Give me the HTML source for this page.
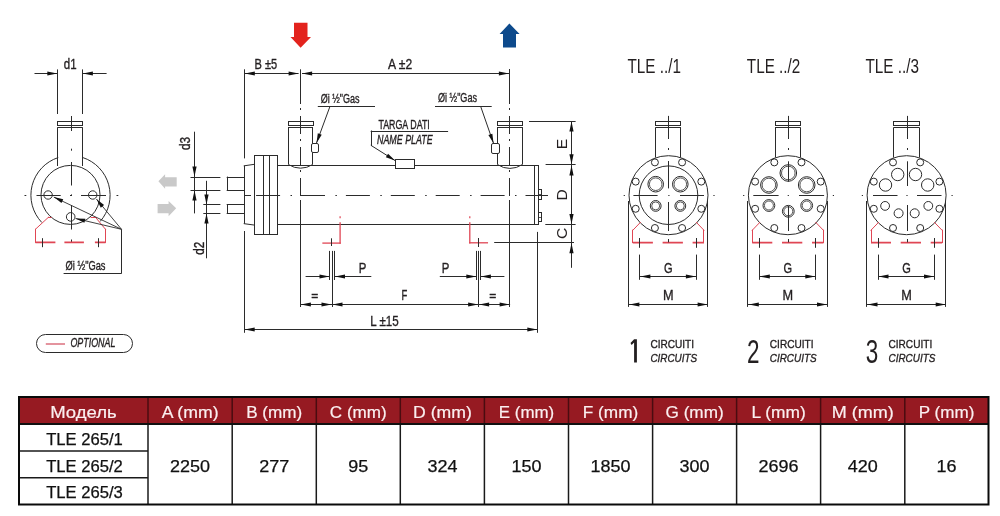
<!DOCTYPE html>
<html><head><meta charset="utf-8"><style>
html,body{margin:0;padding:0;background:#fff;width:1000px;height:516px;overflow:hidden}
svg{position:absolute;left:0;top:0;display:block;will-change:transform}
</style></head><body>
<svg width="1000" height="516" viewBox="0 0 1000 516">
<rect x="19.0" y="397.0" width="969.5" height="27.0" fill="#961a22"/>
<line x1="148.00" y1="397.00" x2="148.00" y2="424.00" stroke="#4a0c10" stroke-width="1.5" />
<line x1="232.20" y1="397.00" x2="232.20" y2="424.00" stroke="#4a0c10" stroke-width="1.5" />
<line x1="316.30" y1="397.00" x2="316.30" y2="424.00" stroke="#4a0c10" stroke-width="1.5" />
<line x1="400.30" y1="397.00" x2="400.30" y2="424.00" stroke="#4a0c10" stroke-width="1.5" />
<line x1="484.40" y1="397.00" x2="484.40" y2="424.00" stroke="#4a0c10" stroke-width="1.5" />
<line x1="568.50" y1="397.00" x2="568.50" y2="424.00" stroke="#4a0c10" stroke-width="1.5" />
<line x1="652.60" y1="397.00" x2="652.60" y2="424.00" stroke="#4a0c10" stroke-width="1.5" />
<line x1="736.60" y1="397.00" x2="736.60" y2="424.00" stroke="#4a0c10" stroke-width="1.5" />
<line x1="820.60" y1="397.00" x2="820.60" y2="424.00" stroke="#4a0c10" stroke-width="1.5" />
<line x1="904.80" y1="397.00" x2="904.80" y2="424.00" stroke="#4a0c10" stroke-width="1.5" />
<line x1="148.00" y1="424.00" x2="148.00" y2="504.50" stroke="#1a1a1a" stroke-width="1.5" />
<line x1="232.20" y1="424.00" x2="232.20" y2="504.50" stroke="#1a1a1a" stroke-width="1.5" />
<line x1="316.30" y1="424.00" x2="316.30" y2="504.50" stroke="#1a1a1a" stroke-width="1.5" />
<line x1="400.30" y1="424.00" x2="400.30" y2="504.50" stroke="#1a1a1a" stroke-width="1.5" />
<line x1="484.40" y1="424.00" x2="484.40" y2="504.50" stroke="#1a1a1a" stroke-width="1.5" />
<line x1="568.50" y1="424.00" x2="568.50" y2="504.50" stroke="#1a1a1a" stroke-width="1.5" />
<line x1="652.60" y1="424.00" x2="652.60" y2="504.50" stroke="#1a1a1a" stroke-width="1.5" />
<line x1="736.60" y1="424.00" x2="736.60" y2="504.50" stroke="#1a1a1a" stroke-width="1.5" />
<line x1="820.60" y1="424.00" x2="820.60" y2="504.50" stroke="#1a1a1a" stroke-width="1.5" />
<line x1="904.80" y1="424.00" x2="904.80" y2="504.50" stroke="#1a1a1a" stroke-width="1.5" />
<line x1="19.00" y1="451.00" x2="148.00" y2="451.00" stroke="#1a1a1a" stroke-width="1.5" />
<line x1="19.00" y1="477.80" x2="148.00" y2="477.80" stroke="#1a1a1a" stroke-width="1.5" />
<line x1="19.00" y1="424.00" x2="988.50" y2="424.00" stroke="#111" stroke-width="2" />
<rect x="19.0" y="397.0" width="969.5" height="107.5" fill="none" stroke="#0a0a0a" stroke-width="2"/>
<text x="83.5" y="418.0" font-family="Liberation Sans" font-size="16.5" text-anchor="middle" fill="#fbeff0" font-weight="normal" textLength="66.6" lengthAdjust="spacingAndGlyphs" stroke="#fbeff0" stroke-width="0.2">Модель</text>
<text x="190.1" y="418.0" font-family="Liberation Sans" font-size="16.5" text-anchor="middle" fill="#fbeff0" font-weight="normal" textLength="56.9" lengthAdjust="spacingAndGlyphs" stroke="#fbeff0" stroke-width="0.2">A (mm)</text>
<text x="274.2" y="418.0" font-family="Liberation Sans" font-size="16.5" text-anchor="middle" fill="#fbeff0" font-weight="normal" textLength="56.1" lengthAdjust="spacingAndGlyphs" stroke="#fbeff0" stroke-width="0.2">B (mm)</text>
<text x="358.3" y="418.0" font-family="Liberation Sans" font-size="16.5" text-anchor="middle" fill="#fbeff0" font-weight="normal" textLength="56.9" lengthAdjust="spacingAndGlyphs" stroke="#fbeff0" stroke-width="0.2">C (mm)</text>
<text x="442.4" y="418.0" font-family="Liberation Sans" font-size="16.5" text-anchor="middle" fill="#fbeff0" font-weight="normal" textLength="58.8" lengthAdjust="spacingAndGlyphs" stroke="#fbeff0" stroke-width="0.2">D (mm)</text>
<text x="526.5" y="418.0" font-family="Liberation Sans" font-size="16.5" text-anchor="middle" fill="#fbeff0" font-weight="normal" textLength="55.4" lengthAdjust="spacingAndGlyphs" stroke="#fbeff0" stroke-width="0.2">E (mm)</text>
<text x="610.5" y="418.0" font-family="Liberation Sans" font-size="16.5" text-anchor="middle" fill="#fbeff0" font-weight="normal" textLength="55.4" lengthAdjust="spacingAndGlyphs" stroke="#fbeff0" stroke-width="0.2">F (mm)</text>
<text x="694.6" y="418.0" font-family="Liberation Sans" font-size="16.5" text-anchor="middle" fill="#fbeff0" font-weight="normal" textLength="58.1" lengthAdjust="spacingAndGlyphs" stroke="#fbeff0" stroke-width="0.2">G (mm)</text>
<text x="778.6" y="418.0" font-family="Liberation Sans" font-size="16.5" text-anchor="middle" fill="#fbeff0" font-weight="normal" textLength="54.3" lengthAdjust="spacingAndGlyphs" stroke="#fbeff0" stroke-width="0.2">L (mm)</text>
<text x="862.7" y="418.0" font-family="Liberation Sans" font-size="16.5" text-anchor="middle" fill="#fbeff0" font-weight="normal" textLength="62.0" lengthAdjust="spacingAndGlyphs" stroke="#fbeff0" stroke-width="0.2">M (mm)</text>
<text x="946.6" y="418.0" font-family="Liberation Sans" font-size="16.5" text-anchor="middle" fill="#fbeff0" font-weight="normal" textLength="55.5" lengthAdjust="spacingAndGlyphs" stroke="#fbeff0" stroke-width="0.2">P (mm)</text>
<text x="84.5" y="445.3" font-family="Liberation Sans" font-size="16.5" text-anchor="middle" fill="#111" font-weight="normal" textLength="76.7" lengthAdjust="spacingAndGlyphs" stroke="#111" stroke-width="0.25">TLE 265/1</text>
<text x="84.5" y="471.8" font-family="Liberation Sans" font-size="16.5" text-anchor="middle" fill="#111" font-weight="normal" textLength="76.7" lengthAdjust="spacingAndGlyphs" stroke="#111" stroke-width="0.25">TLE 265/2</text>
<text x="84.5" y="497.8" font-family="Liberation Sans" font-size="16.5" text-anchor="middle" fill="#111" font-weight="normal" textLength="76.7" lengthAdjust="spacingAndGlyphs" stroke="#111" stroke-width="0.25">TLE 265/3</text>
<text x="190.1" y="471.8" font-family="Liberation Sans" font-size="16.5" text-anchor="middle" fill="#111" font-weight="normal" textLength="40" lengthAdjust="spacingAndGlyphs" stroke="#111" stroke-width="0.25">2250</text>
<text x="274.2" y="471.8" font-family="Liberation Sans" font-size="16.5" text-anchor="middle" fill="#111" font-weight="normal" textLength="30" lengthAdjust="spacingAndGlyphs" stroke="#111" stroke-width="0.25">277</text>
<text x="358.3" y="471.8" font-family="Liberation Sans" font-size="16.5" text-anchor="middle" fill="#111" font-weight="normal" textLength="20" lengthAdjust="spacingAndGlyphs" stroke="#111" stroke-width="0.25">95</text>
<text x="442.4" y="471.8" font-family="Liberation Sans" font-size="16.5" text-anchor="middle" fill="#111" font-weight="normal" textLength="30" lengthAdjust="spacingAndGlyphs" stroke="#111" stroke-width="0.25">324</text>
<text x="526.5" y="471.8" font-family="Liberation Sans" font-size="16.5" text-anchor="middle" fill="#111" font-weight="normal" textLength="30" lengthAdjust="spacingAndGlyphs" stroke="#111" stroke-width="0.25">150</text>
<text x="610.5" y="471.8" font-family="Liberation Sans" font-size="16.5" text-anchor="middle" fill="#111" font-weight="normal" textLength="40" lengthAdjust="spacingAndGlyphs" stroke="#111" stroke-width="0.25">1850</text>
<text x="694.6" y="471.8" font-family="Liberation Sans" font-size="16.5" text-anchor="middle" fill="#111" font-weight="normal" textLength="30" lengthAdjust="spacingAndGlyphs" stroke="#111" stroke-width="0.25">300</text>
<text x="778.6" y="471.8" font-family="Liberation Sans" font-size="16.5" text-anchor="middle" fill="#111" font-weight="normal" textLength="40" lengthAdjust="spacingAndGlyphs" stroke="#111" stroke-width="0.25">2696</text>
<text x="862.7" y="471.8" font-family="Liberation Sans" font-size="16.5" text-anchor="middle" fill="#111" font-weight="normal" textLength="30" lengthAdjust="spacingAndGlyphs" stroke="#111" stroke-width="0.25">420</text>
<text x="946.6" y="471.8" font-family="Liberation Sans" font-size="16.5" text-anchor="middle" fill="#111" font-weight="normal" textLength="20" lengthAdjust="spacingAndGlyphs" stroke="#111" stroke-width="0.25">16</text>
<line x1="34.50" y1="73.50" x2="57.80" y2="73.50" stroke="#2b2b2b" stroke-width="1.0" />
<polygon points="57.30,73.50 47.30,75.60 47.30,71.40" fill="#111"/>
<line x1="82.40" y1="73.50" x2="106.60" y2="73.50" stroke="#2b2b2b" stroke-width="1.0" />
<polygon points="82.90,73.50 92.90,71.40 92.90,75.60" fill="#111"/>
<line x1="57.50" y1="69.40" x2="57.50" y2="114.00" stroke="#2b2b2b" stroke-width="1.0" />
<line x1="82.50" y1="69.40" x2="82.50" y2="114.00" stroke="#2b2b2b" stroke-width="1.0" />
<text x="70.2" y="68.9" font-family="Liberation Sans" font-size="14.5" text-anchor="middle" fill="#231f20" font-weight="normal" textLength="12.8" lengthAdjust="spacingAndGlyphs" stroke="#231f20" stroke-width="0.35">d1</text>
<rect x="57.50" y="121.50" width="25.00" height="4.00" rx="0" fill="none" stroke="#2b2b2b" stroke-width="1.0"/>
<line x1="57.80" y1="127.50" x2="82.40" y2="127.50" stroke="#2b2b2b" stroke-width="1.0" />
<line x1="57.50" y1="127.20" x2="57.50" y2="166.00" stroke="#2b2b2b" stroke-width="1.0" />
<line x1="82.50" y1="127.20" x2="82.50" y2="166.00" stroke="#2b2b2b" stroke-width="1.0" />
<line x1="71.50" y1="116.00" x2="71.50" y2="131.00" stroke="#2b2b2b" stroke-width="1.0" />
<line x1="71.50" y1="148.70" x2="71.50" y2="150.70" stroke="#2b2b2b" stroke-width="1.0" />
<line x1="71.50" y1="162.00" x2="71.50" y2="185.50" stroke="#2b2b2b" stroke-width="1.0" />
<line x1="71.50" y1="194.40" x2="71.50" y2="196.00" stroke="#2b2b2b" stroke-width="1.0" />
<line x1="71.50" y1="205.00" x2="71.50" y2="229.50" stroke="#2b2b2b" stroke-width="1.0" />
<line x1="71.50" y1="239.50" x2="71.50" y2="242.00" stroke="#2b2b2b" stroke-width="1.0" />
<path d="M41.78,222.46 A39.60,39.60 0 0 1 58.26,157.54" fill="none" stroke="#2b2b2b" stroke-width="1.0"/>
<path d="M82.74,157.54 A39.60,39.60 0 0 1 100.16,221.44" fill="none" stroke="#2b2b2b" stroke-width="1.0"/>
<circle cx="70.50" cy="194.90" r="29.50" fill="none" stroke="#2b2b2b" stroke-width="1.0"/>
<circle cx="48.10" cy="195.00" r="4.20" fill="none" stroke="#2b2b2b" stroke-width="1.0"/>
<circle cx="92.70" cy="195.00" r="4.20" fill="none" stroke="#2b2b2b" stroke-width="1.0"/>
<circle cx="70.70" cy="216.90" r="4.30" fill="none" stroke="#2b2b2b" stroke-width="1.0"/>
<line x1="24.50" y1="195.50" x2="26.30" y2="195.50" stroke="#2b2b2b" stroke-width="1.0" />
<line x1="36.50" y1="195.50" x2="60.70" y2="195.50" stroke="#2b2b2b" stroke-width="1.0" />
<line x1="70.00" y1="195.50" x2="71.80" y2="195.50" stroke="#2b2b2b" stroke-width="1.0" />
<line x1="81.00" y1="195.50" x2="106.00" y2="195.50" stroke="#2b2b2b" stroke-width="1.0" />
<line x1="116.50" y1="195.50" x2="118.30" y2="195.50" stroke="#2b2b2b" stroke-width="1.0" />
<line x1="35.50" y1="242.40" x2="35.50" y2="229.30" stroke="#e04654" stroke-width="1.0" stroke-linecap="square"/>
<line x1="35.40" y1="229.30" x2="48.50" y2="217.20" stroke="#e04654" stroke-width="1.0" stroke-linecap="square"/>
<line x1="48.50" y1="217.50" x2="51.00" y2="217.50" stroke="#e04654" stroke-width="1.0" stroke-linecap="square"/>
<line x1="91.10" y1="217.50" x2="95.40" y2="217.50" stroke="#e04654" stroke-width="1.0" stroke-linecap="square"/>
<line x1="95.40" y1="217.20" x2="105.50" y2="229.30" stroke="#e04654" stroke-width="1.0" stroke-linecap="square"/>
<line x1="105.50" y1="229.30" x2="105.50" y2="242.40" stroke="#e04654" stroke-width="1.0" stroke-linecap="square"/>
<line x1="35.40" y1="242.40" x2="105.50" y2="242.40" stroke="#e04654" stroke-width="1.7" stroke-dasharray="20 9 19.5 11 11" stroke-dashoffset="0"/>
<line x1="42.50" y1="238.20" x2="42.50" y2="247.20" stroke="#2b2b2b" stroke-width="1.0" />
<line x1="98.50" y1="238.20" x2="98.50" y2="247.20" stroke="#2b2b2b" stroke-width="1.0" />
<line x1="121.50" y1="229.30" x2="53.80" y2="197.10" stroke="#2b2b2b" stroke-width="0.9" />
<polygon points="53.80,197.10 63.28,199.28 61.48,203.08" fill="#111"/>
<line x1="121.50" y1="229.30" x2="96.40" y2="199.00" stroke="#2b2b2b" stroke-width="0.9" />
<polygon points="96.40,199.00 104.08,204.98 100.84,207.66" fill="#111"/>
<line x1="121.50" y1="229.30" x2="75.60" y2="218.50" stroke="#2b2b2b" stroke-width="0.9" />
<polygon points="75.60,218.50 85.33,218.63 84.37,222.72" fill="#111"/>
<line x1="121.50" y1="229.30" x2="121.50" y2="273.60" stroke="#2b2b2b" stroke-width="1.0" />
<line x1="63.60" y1="273.50" x2="121.50" y2="273.50" stroke="#2b2b2b" stroke-width="1.0" />
<text x="65.5" y="270.2" font-family="Liberation Sans" font-size="12.3" text-anchor="start" fill="#231f20" font-weight="normal" textLength="40" lengthAdjust="spacingAndGlyphs" stroke="#231f20" stroke-width="0.35">Øi ½"Gas</text>
<rect x="36.50" y="334.50" width="96.00" height="18.00" rx="9" fill="none" stroke="#2b2b2b" stroke-width="1.0"/>
<line x1="45.80" y1="344.00" x2="65.00" y2="344.00" stroke="#d65a6a" stroke-width="1.3" />
<text x="70.4" y="347.4" font-family="Liberation Sans" font-size="12" text-anchor="start" fill="#231f20" font-weight="normal" font-style="italic" textLength="45" lengthAdjust="spacingAndGlyphs" stroke="#231f20" stroke-width="0.35">OPTIONAL</text>
<polygon points="294.00,22.70 307.50,22.70 307.50,37.00 311.00,37.00 300.60,47.80 290.50,37.00 294.00,37.00" fill="#e3231d" stroke="none" stroke-width="1.0"/>
<polygon points="509.40,23.40 519.60,34.00 516.00,34.00 516.00,47.40 503.00,47.40 503.00,34.00 499.60,34.00" fill="#0d4a8c" stroke="none" stroke-width="1.0"/>
<line x1="244.30" y1="73.50" x2="298.60" y2="73.50" stroke="#2b2b2b" stroke-width="1.0" />
<polygon points="244.80,73.50 254.80,71.40 254.80,75.60" fill="#111"/>
<polygon points="298.60,73.50 288.60,75.60 288.60,71.40" fill="#111"/>
<line x1="302.00" y1="73.50" x2="509.40" y2="73.50" stroke="#2b2b2b" stroke-width="1.0" />
<polygon points="302.10,73.50 312.10,71.40 312.10,75.60" fill="#111"/>
<polygon points="508.90,73.50 498.90,75.60 498.90,71.40" fill="#111"/>
<text x="254.6" y="69.3" font-family="Liberation Sans" font-size="14.5" text-anchor="start" fill="#231f20" font-weight="normal" textLength="22.6" lengthAdjust="spacingAndGlyphs" stroke="#231f20" stroke-width="0.35">B ±5</text>
<text x="388" y="69.4" font-family="Liberation Sans" font-size="14.5" text-anchor="start" fill="#231f20" font-weight="normal" textLength="24.2" lengthAdjust="spacingAndGlyphs" stroke="#231f20" stroke-width="0.35">A ±2</text>
<line x1="244.50" y1="69.30" x2="244.50" y2="158.40" stroke="#2b2b2b" stroke-width="1.0" />
<line x1="244.50" y1="231.00" x2="244.50" y2="332.80" stroke="#2b2b2b" stroke-width="1.0" />
<line x1="300.50" y1="69.30" x2="300.50" y2="104.00" stroke="#2b2b2b" stroke-width="1.0" />
<line x1="300.50" y1="108.00" x2="300.50" y2="200.00" stroke="#2b2b2b" stroke-width="1.0" stroke-dasharray="2 6 18 5" stroke-dashoffset="0"/>
<line x1="300.50" y1="200.00" x2="300.50" y2="307.00" stroke="#2b2b2b" stroke-width="1.0" />
<line x1="509.50" y1="69.00" x2="509.50" y2="104.00" stroke="#2b2b2b" stroke-width="1.0" />
<line x1="509.50" y1="108.00" x2="509.50" y2="200.00" stroke="#2b2b2b" stroke-width="1.0" stroke-dasharray="2 6 18 5" stroke-dashoffset="0"/>
<line x1="509.50" y1="200.00" x2="509.50" y2="307.00" stroke="#2b2b2b" stroke-width="1.0" />
<line x1="244.20" y1="165.80" x2="254.50" y2="164.30" stroke="#2b2b2b" stroke-width="1.0" stroke-linecap="square"/>
<line x1="244.20" y1="223.70" x2="254.50" y2="225.10" stroke="#2b2b2b" stroke-width="1.0" stroke-linecap="square"/>
<line x1="244.50" y1="165.80" x2="244.50" y2="223.70" stroke="#2b2b2b" stroke-width="1.0" />
<rect x="254.50" y="155.50" width="23.00" height="79.00" rx="0" fill="none" stroke="#2b2b2b" stroke-width="1.0"/>
<line x1="263.50" y1="155.20" x2="263.50" y2="234.20" stroke="#2b2b2b" stroke-width="1.0" />
<line x1="269.50" y1="155.20" x2="269.50" y2="234.20" stroke="#2b2b2b" stroke-width="1.0" />
<line x1="244.20" y1="177.50" x2="227.20" y2="177.50" stroke="#2b2b2b" stroke-width="1.0" stroke-linecap="square"/>
<line x1="227.50" y1="177.10" x2="227.50" y2="190.00" stroke="#2b2b2b" stroke-width="1.0" stroke-linecap="square"/>
<line x1="227.20" y1="190.50" x2="244.20" y2="190.50" stroke="#2b2b2b" stroke-width="1.0" stroke-linecap="square"/>
<line x1="244.20" y1="204.50" x2="227.20" y2="204.50" stroke="#2b2b2b" stroke-width="1.0" stroke-linecap="square"/>
<line x1="227.50" y1="204.90" x2="227.50" y2="213.40" stroke="#2b2b2b" stroke-width="1.0" stroke-linecap="square"/>
<line x1="227.20" y1="213.50" x2="244.20" y2="213.50" stroke="#2b2b2b" stroke-width="1.0" stroke-linecap="square"/>
<line x1="277.50" y1="165.50" x2="534.00" y2="165.50" stroke="#2b2b2b" stroke-width="1.0" />
<line x1="277.50" y1="224.50" x2="534.00" y2="224.50" stroke="#2b2b2b" stroke-width="1.0" />
<rect x="534.50" y="165.50" width="4.00" height="59.00" rx="0" fill="none" stroke="#2b2b2b" stroke-width="1.0"/>
<rect x="538.50" y="189.50" width="3.00" height="10.00" rx="0" fill="none" stroke="#2b2b2b" stroke-width="1.0"/>
<rect x="538.50" y="212.50" width="3.00" height="9.00" rx="0" fill="none" stroke="#2b2b2b" stroke-width="1.0"/>
<line x1="538.30" y1="194.50" x2="541.80" y2="194.50" stroke="#2b2b2b" stroke-width="0.8" />
<line x1="538.30" y1="217.50" x2="541.80" y2="217.50" stroke="#2b2b2b" stroke-width="0.8" />
<line x1="244.50" y1="195.50" x2="251.00" y2="195.50" stroke="#2b2b2b" stroke-width="1.0" />
<line x1="256.10" y1="195.50" x2="548.00" y2="195.50" stroke="#2b2b2b" stroke-width="1.0" stroke-dasharray="24 10.4 1.5 9" stroke-dashoffset="0"/>
<rect x="288.50" y="121.50" width="25.00" height="4.00" rx="0" fill="none" stroke="#2b2b2b" stroke-width="1.0"/>
<line x1="288.10" y1="127.50" x2="313.00" y2="127.50" stroke="#2b2b2b" stroke-width="1.0" />
<line x1="288.50" y1="127.20" x2="288.50" y2="164.60" stroke="#2b2b2b" stroke-width="1.0" />
<line x1="312.50" y1="127.20" x2="312.50" y2="164.60" stroke="#2b2b2b" stroke-width="1.0" />
<path d="M288.6,164.6 A21.7,21.7 0 0 0 312.5,164.6" fill="none" stroke="#2b2b2b" stroke-width="1"/>
<rect x="497.50" y="121.50" width="25.00" height="4.00" rx="0" fill="none" stroke="#2b2b2b" stroke-width="1.0"/>
<line x1="497.10" y1="127.50" x2="522.70" y2="127.50" stroke="#2b2b2b" stroke-width="1.0" />
<line x1="497.50" y1="127.20" x2="497.50" y2="164.60" stroke="#2b2b2b" stroke-width="1.0" />
<line x1="522.50" y1="127.20" x2="522.50" y2="164.60" stroke="#2b2b2b" stroke-width="1.0" />
<path d="M497.6,164.6 A21.7,21.7 0 0 0 522.2,164.6" fill="none" stroke="#2b2b2b" stroke-width="1"/>
<rect x="311.50" y="143.50" width="7.00" height="9.00" rx="1.5" fill="#fff" stroke="#2b2b2b" stroke-width="1.0"/>
<rect x="491.50" y="143.50" width="8.00" height="10.00" rx="1.5" fill="#fff" stroke="#2b2b2b" stroke-width="1.0"/>
<line x1="330.00" y1="106.30" x2="316.50" y2="143.00" stroke="#2b2b2b" stroke-width="1.0" />
<polygon points="316.50,143.00 317.81,133.36 321.75,134.81" fill="#111"/>
<line x1="317.80" y1="106.50" x2="375.00" y2="106.50" stroke="#2b2b2b" stroke-width="1.0" />
<text x="320.7" y="102.8" font-family="Liberation Sans" font-size="12.3" text-anchor="start" fill="#231f20" font-weight="normal" textLength="38.8" lengthAdjust="spacingAndGlyphs" stroke="#231f20" stroke-width="0.35">Øi ½"Gas</text>
<line x1="480.70" y1="106.50" x2="493.50" y2="143.30" stroke="#2b2b2b" stroke-width="1.0" />
<polygon points="493.50,143.30 488.40,135.02 492.36,133.64" fill="#111"/>
<line x1="435.00" y1="106.50" x2="491.70" y2="106.50" stroke="#2b2b2b" stroke-width="1.0" />
<text x="438" y="102.4" font-family="Liberation Sans" font-size="12.3" text-anchor="start" fill="#231f20" font-weight="normal" textLength="39" lengthAdjust="spacingAndGlyphs" stroke="#231f20" stroke-width="0.35">Øi ½"Gas</text>
<rect x="395.50" y="159.50" width="19.00" height="9.00" rx="0" fill="#fff" stroke="#2b2b2b" stroke-width="1.0"/>
<line x1="447.60" y1="131.50" x2="371.20" y2="131.50" stroke="#2b2b2b" stroke-width="1.0" stroke-linecap="square"/>
<line x1="371.50" y1="131.00" x2="371.50" y2="145.50" stroke="#2b2b2b" stroke-width="1.0" stroke-linecap="square"/>
<line x1="371.20" y1="145.50" x2="395.00" y2="160.50" stroke="#2b2b2b" stroke-width="1.0" stroke-linecap="square"/>
<polygon points="395.00,160.50 385.84,157.21 388.08,153.66" fill="#111"/>
<text x="378.4" y="128.7" font-family="Liberation Sans" font-size="12.5" text-anchor="start" fill="#231f20" font-weight="normal" textLength="51.4" lengthAdjust="spacingAndGlyphs" stroke="#231f20" stroke-width="0.35">TARGA DATI</text>
<text x="377" y="143.6" font-family="Liberation Sans" font-size="12.5" text-anchor="start" fill="#231f20" font-weight="normal" font-style="italic" textLength="55.7" lengthAdjust="spacingAndGlyphs" stroke="#231f20" stroke-width="0.35">NAME PLATE</text>
<line x1="529.00" y1="121.50" x2="575.60" y2="121.50" stroke="#2b2b2b" stroke-width="1.0" />
<line x1="545.60" y1="164.50" x2="575.60" y2="164.50" stroke="#2b2b2b" stroke-width="1.0" />
<line x1="545.30" y1="224.50" x2="575.60" y2="224.50" stroke="#2b2b2b" stroke-width="1.0" />
<line x1="494.20" y1="242.50" x2="574.00" y2="242.50" stroke="#2b2b2b" stroke-width="1.0" />
<line x1="571.50" y1="121.00" x2="571.50" y2="267.80" stroke="#2b2b2b" stroke-width="1.0" />
<polygon points="571.50,121.50 573.60,131.50 569.40,131.50" fill="#111"/>
<polygon points="571.50,164.30 569.40,154.30 573.60,154.30" fill="#111"/>
<polygon points="571.50,165.60 573.60,175.60 569.40,175.60" fill="#111"/>
<polygon points="571.50,223.90 569.40,213.90 573.60,213.90" fill="#111"/>
<polygon points="571.50,243.30 573.60,253.30 569.40,253.30" fill="#111"/>
<text x="566.5" y="144" font-family="Liberation Sans" font-size="15.5" text-anchor="middle" fill="#231f20" font-weight="normal" transform="rotate(-90 566.5 144)" stroke="#231f20" stroke-width="0.05">E</text>
<text x="567" y="194.8" font-family="Liberation Sans" font-size="15.5" text-anchor="middle" fill="#231f20" font-weight="normal" transform="rotate(-90 567 194.8)" stroke="#231f20" stroke-width="0.05">D</text>
<text x="567" y="233.5" font-family="Liberation Sans" font-size="15.5" text-anchor="middle" fill="#231f20" font-weight="normal" transform="rotate(-90 567 233.5)" stroke="#231f20" stroke-width="0.05">C</text>
<line x1="537.50" y1="231.90" x2="537.50" y2="332.80" stroke="#2b2b2b" stroke-width="1.0" />
<line x1="340.10" y1="222.80" x2="340.10" y2="243.10" stroke="#e04654" stroke-width="1.3" stroke-linecap="square"/>
<line x1="340.10" y1="243.10" x2="323.00" y2="243.10" stroke="#e04654" stroke-width="1.3" stroke-linecap="square"/>
<line x1="340.10" y1="216.30" x2="340.10" y2="218.30" stroke="#e04654" stroke-width="1.2" />
<line x1="331.50" y1="238.30" x2="331.50" y2="246.00" stroke="#2b2b2b" stroke-width="1.0" />
<line x1="469.80" y1="223.00" x2="469.80" y2="242.80" stroke="#e04654" stroke-width="1.3" stroke-linecap="square"/>
<line x1="469.80" y1="242.80" x2="487.40" y2="242.80" stroke="#e04654" stroke-width="1.3" stroke-linecap="square"/>
<line x1="469.80" y1="216.30" x2="469.80" y2="218.30" stroke="#e04654" stroke-width="1.2" />
<line x1="478.50" y1="238.00" x2="478.50" y2="247.00" stroke="#2b2b2b" stroke-width="1.0" />
<line x1="329.50" y1="250.90" x2="329.50" y2="280.00" stroke="#2b2b2b" stroke-width="1.0" />
<line x1="334.50" y1="250.90" x2="334.50" y2="280.00" stroke="#2b2b2b" stroke-width="1.0" />
<line x1="332.50" y1="250.90" x2="332.50" y2="307.00" stroke="#2b2b2b" stroke-width="1.0" />
<line x1="476.50" y1="250.90" x2="476.50" y2="280.00" stroke="#2b2b2b" stroke-width="1.0" />
<line x1="480.50" y1="250.90" x2="480.50" y2="280.00" stroke="#2b2b2b" stroke-width="1.0" />
<line x1="478.50" y1="250.90" x2="478.50" y2="307.00" stroke="#2b2b2b" stroke-width="1.0" />
<line x1="305.60" y1="276.50" x2="329.80" y2="276.50" stroke="#2b2b2b" stroke-width="1.0" />
<polygon points="329.50,276.50 319.50,278.60 319.50,274.40" fill="#111"/>
<line x1="334.70" y1="276.50" x2="371.30" y2="276.50" stroke="#2b2b2b" stroke-width="1.0" />
<polygon points="335.00,276.50 345.00,274.40 345.00,278.60" fill="#111"/>
<line x1="439.80" y1="276.50" x2="476.60" y2="276.50" stroke="#2b2b2b" stroke-width="1.0" />
<polygon points="476.30,276.50 466.30,278.60 466.30,274.40" fill="#111"/>
<line x1="480.60" y1="276.50" x2="504.40" y2="276.50" stroke="#2b2b2b" stroke-width="1.0" />
<polygon points="480.90,276.50 490.90,274.40 490.90,278.60" fill="#111"/>
<text x="358.8" y="272.6" font-family="Liberation Sans" font-size="14" text-anchor="start" fill="#231f20" font-weight="normal" textLength="7.6" lengthAdjust="spacingAndGlyphs" stroke="#231f20" stroke-width="0.35">P</text>
<text x="441.7" y="272.6" font-family="Liberation Sans" font-size="14" text-anchor="start" fill="#231f20" font-weight="normal" textLength="7.6" lengthAdjust="spacingAndGlyphs" stroke="#231f20" stroke-width="0.35">P</text>
<line x1="300.40" y1="304.50" x2="510.10" y2="304.50" stroke="#2b2b2b" stroke-width="1.0" />
<polygon points="300.90,304.50 310.90,302.40 310.90,306.60" fill="#111"/>
<polygon points="331.50,304.50 321.50,306.60 321.50,302.40" fill="#111"/>
<polygon points="332.50,304.50 342.50,302.40 342.50,306.60" fill="#111"/>
<polygon points="478.10,304.50 468.10,306.60 468.10,302.40" fill="#111"/>
<polygon points="479.10,304.50 489.10,302.40 489.10,306.60" fill="#111"/>
<polygon points="509.60,304.50 499.60,306.60 499.60,302.40" fill="#111"/>
<text x="401.4" y="300.3" font-family="Liberation Sans" font-size="14" text-anchor="start" fill="#231f20" font-weight="normal" textLength="5.8" lengthAdjust="spacingAndGlyphs" stroke="#231f20" stroke-width="0.35">F</text>
<text x="311.3" y="299.5" font-family="Liberation Sans" font-size="13" text-anchor="start" fill="#231f20" font-weight="normal" textLength="7" lengthAdjust="spacingAndGlyphs" stroke="#231f20" stroke-width="0.35">=</text>
<text x="489.2" y="299.5" font-family="Liberation Sans" font-size="13" text-anchor="start" fill="#231f20" font-weight="normal" textLength="7" lengthAdjust="spacingAndGlyphs" stroke="#231f20" stroke-width="0.35">=</text>
<line x1="244.20" y1="329.50" x2="537.80" y2="329.50" stroke="#2b2b2b" stroke-width="1.0" />
<polygon points="244.70,329.50 254.70,327.40 254.70,331.60" fill="#111"/>
<polygon points="537.30,329.50 527.30,331.60 527.30,327.40" fill="#111"/>
<text x="370.2" y="325.8" font-family="Liberation Sans" font-size="14.5" text-anchor="start" fill="#231f20" font-weight="normal" textLength="28.5" lengthAdjust="spacingAndGlyphs" stroke="#231f20" stroke-width="0.35">L ±15</text>
<line x1="190.50" y1="177.50" x2="220.40" y2="177.50" stroke="#2b2b2b" stroke-width="1.0" />
<line x1="190.50" y1="190.50" x2="220.40" y2="190.50" stroke="#2b2b2b" stroke-width="1.0" />
<line x1="194.50" y1="131.70" x2="194.50" y2="213.40" stroke="#2b2b2b" stroke-width="1.0" />
<polygon points="194.50,176.60 192.40,166.60 196.60,166.60" fill="#111"/>
<polygon points="194.50,190.40 196.60,200.40 192.40,200.40" fill="#111"/>
<text x="189.5" y="143.5" font-family="Liberation Sans" font-size="14" text-anchor="middle" fill="#231f20" font-weight="normal" textLength="13" lengthAdjust="spacingAndGlyphs" transform="rotate(-90 189.5 143.5)" stroke="#231f20" stroke-width="0.35">d3</text>
<line x1="203.30" y1="204.50" x2="220.40" y2="204.50" stroke="#2b2b2b" stroke-width="1.0" />
<line x1="203.30" y1="213.50" x2="220.40" y2="213.50" stroke="#2b2b2b" stroke-width="1.0" />
<line x1="206.50" y1="180.80" x2="206.50" y2="258.30" stroke="#2b2b2b" stroke-width="1.0" />
<polygon points="206.50,204.50 204.40,194.50 208.60,194.50" fill="#111"/>
<polygon points="206.50,213.40 208.60,223.40 204.40,223.40" fill="#111"/>
<text x="204" y="248.2" font-family="Liberation Sans" font-size="14" text-anchor="middle" fill="#231f20" font-weight="normal" textLength="13" lengthAdjust="spacingAndGlyphs" transform="rotate(-90 204 248.2)" stroke="#231f20" stroke-width="0.35">d2</text>
<polygon points="158.40,181.30 165.10,174.30 165.10,177.20 176.70,177.20 176.70,186.50 165.10,186.50 165.10,188.80" fill="#c9c9c9" stroke="none" stroke-width="1.0"/>
<polygon points="176.20,208.30 168.60,201.00 168.60,204.00 157.60,204.00 157.60,213.30 168.60,213.30 168.60,216.20" fill="#c9c9c9" stroke="none" stroke-width="1.0"/>
<text x="627.4" y="72.9" font-family="Liberation Sans" font-size="20" text-anchor="start" fill="#231f20" font-weight="normal" textLength="53.5" lengthAdjust="spacingAndGlyphs" stroke="#231f20" stroke-width="0.0001">TLE ../1</text>
<rect x="655.50" y="121.50" width="25.00" height="4.00" rx="0" fill="none" stroke="#2b2b2b" stroke-width="1.0"/>
<line x1="655.70" y1="127.50" x2="680.90" y2="127.50" stroke="#2b2b2b" stroke-width="1.0" />
<line x1="655.50" y1="127.30" x2="655.50" y2="157.50" stroke="#2b2b2b" stroke-width="1.0" />
<line x1="680.50" y1="127.30" x2="680.50" y2="157.50" stroke="#2b2b2b" stroke-width="1.0" />
<line x1="668.50" y1="115.90" x2="668.50" y2="139.00" stroke="#2b2b2b" stroke-width="1.0" />
<line x1="668.50" y1="148.00" x2="668.50" y2="150.00" stroke="#2b2b2b" stroke-width="1.0" />
<circle cx="668.50" cy="195.20" r="39.50" fill="none" stroke="#2b2b2b" stroke-width="1.0"/>
<circle cx="668.50" cy="195.20" r="29.30" fill="none" stroke="#2b2b2b" stroke-width="1.0"/>
<circle cx="701.30" cy="208.79" r="3.50" fill="none" stroke="#2b2b2b" stroke-width="1.0"/>
<circle cx="682.09" cy="228.00" r="3.50" fill="none" stroke="#2b2b2b" stroke-width="1.0"/>
<circle cx="654.91" cy="228.00" r="3.50" fill="none" stroke="#2b2b2b" stroke-width="1.0"/>
<circle cx="635.70" cy="208.79" r="3.50" fill="none" stroke="#2b2b2b" stroke-width="1.0"/>
<circle cx="635.70" cy="181.61" r="3.50" fill="none" stroke="#2b2b2b" stroke-width="1.0"/>
<circle cx="654.91" cy="162.40" r="3.50" fill="none" stroke="#2b2b2b" stroke-width="1.0"/>
<circle cx="682.09" cy="162.40" r="3.50" fill="none" stroke="#2b2b2b" stroke-width="1.0"/>
<circle cx="701.30" cy="181.61" r="3.50" fill="none" stroke="#2b2b2b" stroke-width="1.0"/>
<line x1="623.70" y1="195.50" x2="624.90" y2="195.50" stroke="#2b2b2b" stroke-width="1.0" />
<line x1="713.40" y1="195.50" x2="714.60" y2="195.50" stroke="#2b2b2b" stroke-width="1.0" />
<line x1="668.30" y1="195.50" x2="669.50" y2="195.50" stroke="#2b2b2b" stroke-width="1.0" />
<line x1="633.40" y1="195.50" x2="657.60" y2="195.50" stroke="#2b2b2b" stroke-width="1.0" />
<line x1="680.00" y1="195.50" x2="704.00" y2="195.50" stroke="#2b2b2b" stroke-width="1.0" />
<line x1="668.50" y1="161.00" x2="668.50" y2="188.40" stroke="#2b2b2b" stroke-width="1.0" />
<line x1="668.50" y1="202.00" x2="668.50" y2="231.00" stroke="#2b2b2b" stroke-width="1.0" />
<circle cx="655.70" cy="184.20" r="7.80" fill="none" stroke="#2b2b2b" stroke-width="1.0"/>
<circle cx="655.70" cy="184.20" r="6.30" fill="none" stroke="#2b2b2b" stroke-width="0.8"/>
<circle cx="680.30" cy="184.20" r="7.80" fill="none" stroke="#2b2b2b" stroke-width="1.0"/>
<circle cx="680.30" cy="184.20" r="6.30" fill="none" stroke="#2b2b2b" stroke-width="0.8"/>
<circle cx="655.70" cy="205.90" r="5.40" fill="none" stroke="#2b2b2b" stroke-width="1.0"/>
<circle cx="655.70" cy="205.90" r="4.00" fill="none" stroke="#2b2b2b" stroke-width="0.8"/>
<circle cx="680.30" cy="205.90" r="5.40" fill="none" stroke="#2b2b2b" stroke-width="1.0"/>
<circle cx="680.30" cy="205.90" r="4.00" fill="none" stroke="#2b2b2b" stroke-width="0.8"/>
<line x1="628.50" y1="201.00" x2="628.50" y2="306.90" stroke="#2b2b2b" stroke-width="1.0" />
<line x1="707.50" y1="201.00" x2="707.50" y2="306.90" stroke="#2b2b2b" stroke-width="1.0" />
<line x1="640.40" y1="222.40" x2="632.90" y2="230.20" stroke="#e04654" stroke-width="1.0" stroke-linecap="square"/>
<line x1="632.50" y1="230.20" x2="632.50" y2="242.60" stroke="#e04654" stroke-width="1.0" stroke-linecap="square"/>
<line x1="696.40" y1="222.40" x2="703.90" y2="230.20" stroke="#e04654" stroke-width="1.0" stroke-linecap="square"/>
<line x1="703.50" y1="230.20" x2="703.50" y2="242.60" stroke="#e04654" stroke-width="1.0" stroke-linecap="square"/>
<line x1="632.90" y1="242.60" x2="703.90" y2="242.60" stroke="#e04654" stroke-width="1.7" stroke-dasharray="20 9.7 20.3 9.7 11.3" stroke-dashoffset="0"/>
<line x1="639.50" y1="238.00" x2="639.50" y2="247.80" stroke="#2b2b2b" stroke-width="1.0" />
<line x1="696.50" y1="238.00" x2="696.50" y2="247.80" stroke="#2b2b2b" stroke-width="1.0" />
<line x1="668.50" y1="239.00" x2="668.50" y2="242.30" stroke="#2b2b2b" stroke-width="1.0" />
<line x1="639.50" y1="254.60" x2="639.50" y2="279.80" stroke="#2b2b2b" stroke-width="1.0" />
<line x1="696.50" y1="254.60" x2="696.50" y2="279.80" stroke="#2b2b2b" stroke-width="1.0" />
<line x1="639.90" y1="276.50" x2="696.40" y2="276.50" stroke="#2b2b2b" stroke-width="1.0" />
<polygon points="640.40,276.50 650.40,274.40 650.40,278.60" fill="#111"/>
<polygon points="695.90,276.50 685.90,278.60 685.90,274.40" fill="#111"/>
<text x="668.4" y="272.6" font-family="Liberation Sans" font-size="15" text-anchor="middle" fill="#231f20" font-weight="normal" textLength="8.6" lengthAdjust="spacingAndGlyphs" stroke="#231f20" stroke-width="0.35">G</text>
<line x1="628.40" y1="304.50" x2="707.60" y2="304.50" stroke="#2b2b2b" stroke-width="1.0" />
<polygon points="629.40,304.50 639.40,302.40 639.40,306.60" fill="#111"/>
<polygon points="707.60,304.50 697.60,306.60 697.60,302.40" fill="#111"/>
<text x="668.4" y="300.3" font-family="Liberation Sans" font-size="15" text-anchor="middle" fill="#231f20" font-weight="normal" textLength="10.6" lengthAdjust="spacingAndGlyphs" stroke="#231f20" stroke-width="0.35">M</text>
<polygon points="634.10,339.3 636.90,339.3 636.90,362.6 634.10,362.6 634.10,342.4 631.60,345.0 630.50,343.0" fill="#231f20"/>
<text x="650.4" y="347.9" font-family="Liberation Sans" font-size="11.5" text-anchor="start" fill="#231f20" font-weight="normal" textLength="43.7" lengthAdjust="spacingAndGlyphs" stroke="#231f20" stroke-width="0.35">CIRCUITI</text>
<text x="650.4" y="361.9" font-family="Liberation Sans" font-size="11.8" text-anchor="start" fill="#231f20" font-weight="normal" font-style="italic" textLength="46.8" lengthAdjust="spacingAndGlyphs" stroke="#231f20" stroke-width="0.35">CIRCUITS</text>
<text x="746.8" y="72.9" font-family="Liberation Sans" font-size="20" text-anchor="start" fill="#231f20" font-weight="normal" textLength="53.5" lengthAdjust="spacingAndGlyphs" stroke="#231f20" stroke-width="0.0001">TLE ../2</text>
<rect x="775.50" y="121.50" width="25.00" height="4.00" rx="0" fill="none" stroke="#2b2b2b" stroke-width="1.0"/>
<line x1="775.10" y1="127.50" x2="800.30" y2="127.50" stroke="#2b2b2b" stroke-width="1.0" />
<line x1="775.50" y1="127.30" x2="775.50" y2="157.50" stroke="#2b2b2b" stroke-width="1.0" />
<line x1="800.50" y1="127.30" x2="800.50" y2="157.50" stroke="#2b2b2b" stroke-width="1.0" />
<line x1="788.50" y1="115.90" x2="788.50" y2="139.00" stroke="#2b2b2b" stroke-width="1.0" />
<line x1="788.50" y1="148.00" x2="788.50" y2="150.00" stroke="#2b2b2b" stroke-width="1.0" />
<circle cx="787.90" cy="195.20" r="39.50" fill="none" stroke="#2b2b2b" stroke-width="1.0"/>
<circle cx="820.70" cy="208.79" r="3.50" fill="none" stroke="#2b2b2b" stroke-width="1.0"/>
<circle cx="801.49" cy="228.00" r="3.50" fill="none" stroke="#2b2b2b" stroke-width="1.0"/>
<circle cx="774.31" cy="228.00" r="3.50" fill="none" stroke="#2b2b2b" stroke-width="1.0"/>
<circle cx="755.10" cy="208.79" r="3.50" fill="none" stroke="#2b2b2b" stroke-width="1.0"/>
<circle cx="755.10" cy="181.61" r="3.50" fill="none" stroke="#2b2b2b" stroke-width="1.0"/>
<circle cx="774.31" cy="162.40" r="3.50" fill="none" stroke="#2b2b2b" stroke-width="1.0"/>
<circle cx="801.49" cy="162.40" r="3.50" fill="none" stroke="#2b2b2b" stroke-width="1.0"/>
<circle cx="820.70" cy="181.61" r="3.50" fill="none" stroke="#2b2b2b" stroke-width="1.0"/>
<line x1="743.10" y1="195.50" x2="744.30" y2="195.50" stroke="#2b2b2b" stroke-width="1.0" />
<line x1="832.80" y1="195.50" x2="834.00" y2="195.50" stroke="#2b2b2b" stroke-width="1.0" />
<line x1="787.70" y1="195.50" x2="788.90" y2="195.50" stroke="#2b2b2b" stroke-width="1.0" />
<line x1="753.30" y1="195.50" x2="778.60" y2="195.50" stroke="#2b2b2b" stroke-width="1.0" />
<line x1="799.00" y1="195.50" x2="824.10" y2="195.50" stroke="#2b2b2b" stroke-width="1.0" />
<line x1="788.50" y1="161.30" x2="788.50" y2="181.70" stroke="#2b2b2b" stroke-width="1.0" />
<line x1="788.50" y1="206.00" x2="788.50" y2="231.00" stroke="#2b2b2b" stroke-width="1.0" />
<circle cx="788.30" cy="173.00" r="8.30" fill="none" stroke="#2b2b2b" stroke-width="1.0"/>
<circle cx="788.30" cy="173.00" r="6.80" fill="none" stroke="#2b2b2b" stroke-width="0.8"/>
<circle cx="768.90" cy="185.00" r="8.30" fill="none" stroke="#2b2b2b" stroke-width="1.0"/>
<circle cx="768.90" cy="185.00" r="6.80" fill="none" stroke="#2b2b2b" stroke-width="0.8"/>
<circle cx="806.70" cy="185.00" r="8.30" fill="none" stroke="#2b2b2b" stroke-width="1.0"/>
<circle cx="806.70" cy="185.00" r="6.80" fill="none" stroke="#2b2b2b" stroke-width="0.8"/>
<circle cx="768.90" cy="205.50" r="5.90" fill="none" stroke="#2b2b2b" stroke-width="1.0"/>
<circle cx="768.90" cy="205.50" r="4.50" fill="none" stroke="#2b2b2b" stroke-width="0.8"/>
<circle cx="806.70" cy="205.50" r="5.90" fill="none" stroke="#2b2b2b" stroke-width="1.0"/>
<circle cx="806.70" cy="205.50" r="4.50" fill="none" stroke="#2b2b2b" stroke-width="0.8"/>
<circle cx="788.30" cy="211.30" r="5.90" fill="none" stroke="#2b2b2b" stroke-width="1.0"/>
<circle cx="788.30" cy="211.30" r="4.50" fill="none" stroke="#2b2b2b" stroke-width="0.8"/>
<line x1="747.50" y1="201.00" x2="747.50" y2="306.90" stroke="#2b2b2b" stroke-width="1.0" />
<line x1="827.50" y1="201.00" x2="827.50" y2="306.90" stroke="#2b2b2b" stroke-width="1.0" />
<line x1="759.80" y1="222.40" x2="752.30" y2="230.20" stroke="#e04654" stroke-width="1.0" stroke-linecap="square"/>
<line x1="752.50" y1="230.20" x2="752.50" y2="242.60" stroke="#e04654" stroke-width="1.0" stroke-linecap="square"/>
<line x1="815.80" y1="222.40" x2="823.30" y2="230.20" stroke="#e04654" stroke-width="1.0" stroke-linecap="square"/>
<line x1="823.50" y1="230.20" x2="823.50" y2="242.60" stroke="#e04654" stroke-width="1.0" stroke-linecap="square"/>
<line x1="752.30" y1="242.60" x2="823.30" y2="242.60" stroke="#e04654" stroke-width="1.7" stroke-dasharray="20 9.7 20.3 9.7 11.3" stroke-dashoffset="0"/>
<line x1="759.50" y1="238.00" x2="759.50" y2="247.80" stroke="#2b2b2b" stroke-width="1.0" />
<line x1="815.50" y1="238.00" x2="815.50" y2="247.80" stroke="#2b2b2b" stroke-width="1.0" />
<line x1="788.50" y1="239.00" x2="788.50" y2="242.30" stroke="#2b2b2b" stroke-width="1.0" />
<line x1="759.50" y1="254.60" x2="759.50" y2="279.80" stroke="#2b2b2b" stroke-width="1.0" />
<line x1="815.50" y1="254.60" x2="815.50" y2="279.80" stroke="#2b2b2b" stroke-width="1.0" />
<line x1="759.30" y1="276.50" x2="815.80" y2="276.50" stroke="#2b2b2b" stroke-width="1.0" />
<polygon points="759.80,276.50 769.80,274.40 769.80,278.60" fill="#111"/>
<polygon points="815.30,276.50 805.30,278.60 805.30,274.40" fill="#111"/>
<text x="787.8" y="272.6" font-family="Liberation Sans" font-size="15" text-anchor="middle" fill="#231f20" font-weight="normal" textLength="8.6" lengthAdjust="spacingAndGlyphs" stroke="#231f20" stroke-width="0.35">G</text>
<line x1="747.80" y1="304.50" x2="827.00" y2="304.50" stroke="#2b2b2b" stroke-width="1.0" />
<polygon points="748.80,304.50 758.80,302.40 758.80,306.60" fill="#111"/>
<polygon points="827.00,304.50 817.00,306.60 817.00,302.40" fill="#111"/>
<text x="787.8" y="300.3" font-family="Liberation Sans" font-size="15" text-anchor="middle" fill="#231f20" font-weight="normal" textLength="10.6" lengthAdjust="spacingAndGlyphs" stroke="#231f20" stroke-width="0.35">M</text>
<text x="747.0999999999999" y="362.6" font-family="Liberation Sans" font-size="33" text-anchor="start" fill="#231f20" font-weight="normal" textLength="12.5" lengthAdjust="spacingAndGlyphs" stroke="#231f20" stroke-width="0.01">2</text>
<text x="769.8" y="347.9" font-family="Liberation Sans" font-size="11.5" text-anchor="start" fill="#231f20" font-weight="normal" textLength="43.7" lengthAdjust="spacingAndGlyphs" stroke="#231f20" stroke-width="0.35">CIRCUITI</text>
<text x="769.8" y="361.9" font-family="Liberation Sans" font-size="11.8" text-anchor="start" fill="#231f20" font-weight="normal" font-style="italic" textLength="46.8" lengthAdjust="spacingAndGlyphs" stroke="#231f20" stroke-width="0.35">CIRCUITS</text>
<text x="865.5" y="72.9" font-family="Liberation Sans" font-size="20" text-anchor="start" fill="#231f20" font-weight="normal" textLength="53.5" lengthAdjust="spacingAndGlyphs" stroke="#231f20" stroke-width="0.0001">TLE ../3</text>
<rect x="893.50" y="121.50" width="26.00" height="4.00" rx="0" fill="none" stroke="#2b2b2b" stroke-width="1.0"/>
<line x1="893.80" y1="127.50" x2="919.00" y2="127.50" stroke="#2b2b2b" stroke-width="1.0" />
<line x1="893.50" y1="127.30" x2="893.50" y2="157.50" stroke="#2b2b2b" stroke-width="1.0" />
<line x1="919.50" y1="127.30" x2="919.50" y2="157.50" stroke="#2b2b2b" stroke-width="1.0" />
<line x1="907.50" y1="115.90" x2="907.50" y2="139.00" stroke="#2b2b2b" stroke-width="1.0" />
<line x1="907.50" y1="148.00" x2="907.50" y2="150.00" stroke="#2b2b2b" stroke-width="1.0" />
<circle cx="906.60" cy="195.20" r="39.50" fill="none" stroke="#2b2b2b" stroke-width="1.0"/>
<circle cx="939.40" cy="208.79" r="3.50" fill="none" stroke="#2b2b2b" stroke-width="1.0"/>
<circle cx="920.19" cy="228.00" r="3.50" fill="none" stroke="#2b2b2b" stroke-width="1.0"/>
<circle cx="893.01" cy="228.00" r="3.50" fill="none" stroke="#2b2b2b" stroke-width="1.0"/>
<circle cx="873.80" cy="208.79" r="3.50" fill="none" stroke="#2b2b2b" stroke-width="1.0"/>
<circle cx="873.80" cy="181.61" r="3.50" fill="none" stroke="#2b2b2b" stroke-width="1.0"/>
<circle cx="893.01" cy="162.40" r="3.50" fill="none" stroke="#2b2b2b" stroke-width="1.0"/>
<circle cx="920.19" cy="162.40" r="3.50" fill="none" stroke="#2b2b2b" stroke-width="1.0"/>
<circle cx="939.40" cy="181.61" r="3.50" fill="none" stroke="#2b2b2b" stroke-width="1.0"/>
<line x1="861.80" y1="195.50" x2="863.00" y2="195.50" stroke="#2b2b2b" stroke-width="1.0" />
<line x1="951.50" y1="195.50" x2="952.70" y2="195.50" stroke="#2b2b2b" stroke-width="1.0" />
<line x1="906.40" y1="195.50" x2="907.60" y2="195.50" stroke="#2b2b2b" stroke-width="1.0" />
<line x1="873.00" y1="195.50" x2="897.50" y2="195.50" stroke="#2b2b2b" stroke-width="1.0" />
<line x1="917.00" y1="195.50" x2="941.50" y2="195.50" stroke="#2b2b2b" stroke-width="1.0" />
<line x1="907.50" y1="161.30" x2="907.50" y2="186.00" stroke="#2b2b2b" stroke-width="1.0" />
<line x1="907.50" y1="205.00" x2="907.50" y2="231.00" stroke="#2b2b2b" stroke-width="1.0" />
<circle cx="897.70" cy="174.50" r="6.20" fill="none" stroke="#2b2b2b" stroke-width="1.0"/>
<circle cx="915.50" cy="174.50" r="6.20" fill="none" stroke="#2b2b2b" stroke-width="1.0"/>
<circle cx="885.50" cy="185.00" r="6.20" fill="none" stroke="#2b2b2b" stroke-width="1.0"/>
<circle cx="927.70" cy="185.00" r="6.20" fill="none" stroke="#2b2b2b" stroke-width="1.0"/>
<circle cx="885.10" cy="205.90" r="4.40" fill="none" stroke="#2b2b2b" stroke-width="1.0"/>
<circle cx="928.30" cy="205.90" r="4.40" fill="none" stroke="#2b2b2b" stroke-width="1.0"/>
<circle cx="898.60" cy="213.30" r="4.50" fill="none" stroke="#2b2b2b" stroke-width="1.0"/>
<circle cx="914.70" cy="213.30" r="4.50" fill="none" stroke="#2b2b2b" stroke-width="1.0"/>
<line x1="866.50" y1="201.00" x2="866.50" y2="306.90" stroke="#2b2b2b" stroke-width="1.0" />
<line x1="945.50" y1="201.00" x2="945.50" y2="306.90" stroke="#2b2b2b" stroke-width="1.0" />
<line x1="878.50" y1="222.40" x2="871.00" y2="230.20" stroke="#e04654" stroke-width="1.0" stroke-linecap="square"/>
<line x1="871.50" y1="230.20" x2="871.50" y2="242.60" stroke="#e04654" stroke-width="1.0" stroke-linecap="square"/>
<line x1="934.50" y1="222.40" x2="942.00" y2="230.20" stroke="#e04654" stroke-width="1.0" stroke-linecap="square"/>
<line x1="942.50" y1="230.20" x2="942.50" y2="242.60" stroke="#e04654" stroke-width="1.0" stroke-linecap="square"/>
<line x1="871.00" y1="242.60" x2="942.00" y2="242.60" stroke="#e04654" stroke-width="1.7" stroke-dasharray="20 9.7 20.3 9.7 11.3" stroke-dashoffset="0"/>
<line x1="878.50" y1="238.00" x2="878.50" y2="247.80" stroke="#2b2b2b" stroke-width="1.0" />
<line x1="934.50" y1="238.00" x2="934.50" y2="247.80" stroke="#2b2b2b" stroke-width="1.0" />
<line x1="907.50" y1="239.00" x2="907.50" y2="242.30" stroke="#2b2b2b" stroke-width="1.0" />
<line x1="878.50" y1="254.60" x2="878.50" y2="279.80" stroke="#2b2b2b" stroke-width="1.0" />
<line x1="934.50" y1="254.60" x2="934.50" y2="279.80" stroke="#2b2b2b" stroke-width="1.0" />
<line x1="878.00" y1="276.50" x2="934.50" y2="276.50" stroke="#2b2b2b" stroke-width="1.0" />
<polygon points="878.50,276.50 888.50,274.40 888.50,278.60" fill="#111"/>
<polygon points="934.00,276.50 924.00,278.60 924.00,274.40" fill="#111"/>
<text x="906.5" y="272.6" font-family="Liberation Sans" font-size="15" text-anchor="middle" fill="#231f20" font-weight="normal" textLength="8.6" lengthAdjust="spacingAndGlyphs" stroke="#231f20" stroke-width="0.35">G</text>
<line x1="866.50" y1="304.50" x2="945.70" y2="304.50" stroke="#2b2b2b" stroke-width="1.0" />
<polygon points="867.50,304.50 877.50,302.40 877.50,306.60" fill="#111"/>
<polygon points="945.70,304.50 935.70,306.60 935.70,302.40" fill="#111"/>
<text x="906.5" y="300.3" font-family="Liberation Sans" font-size="15" text-anchor="middle" fill="#231f20" font-weight="normal" textLength="10.6" lengthAdjust="spacingAndGlyphs" stroke="#231f20" stroke-width="0.35">M</text>
<text x="865.8" y="362.6" font-family="Liberation Sans" font-size="33" text-anchor="start" fill="#231f20" font-weight="normal" textLength="12.5" lengthAdjust="spacingAndGlyphs" stroke="#231f20" stroke-width="0.01">3</text>
<text x="888.5" y="347.9" font-family="Liberation Sans" font-size="11.5" text-anchor="start" fill="#231f20" font-weight="normal" textLength="43.7" lengthAdjust="spacingAndGlyphs" stroke="#231f20" stroke-width="0.35">CIRCUITI</text>
<text x="888.5" y="361.9" font-family="Liberation Sans" font-size="11.8" text-anchor="start" fill="#231f20" font-weight="normal" font-style="italic" textLength="46.8" lengthAdjust="spacingAndGlyphs" stroke="#231f20" stroke-width="0.35">CIRCUITS</text>
</svg>
</body></html>
